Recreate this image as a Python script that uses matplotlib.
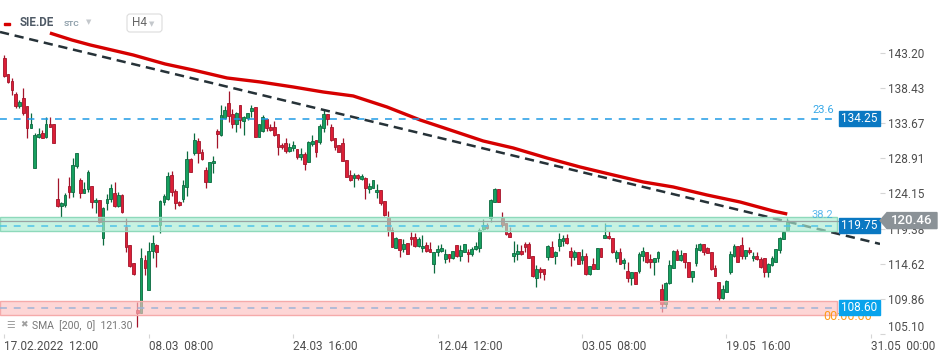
import numpy as np
import matplotlib
matplotlib.use('Agg')
import matplotlib.pyplot as plt
from matplotlib.patches import Rectangle, Polygon, FancyBboxPatch
from matplotlib import transforms
from matplotlib.colors import to_rgba

plt.rcParams['font.family'] = ['Roboto', 'DejaVu Sans']

# SIE.DE, H4 bars from 17.02.2022 12:00
opens = [142.48, 140.31, 139.40, 137.59, 136.01, 137.05, 136.06, 132.98, 127.64, 131.85,
         132.30, 131.85, 133.52, 133.52, 123.38, 122.48, 122.57, 125.15, 124.38, 127.91,
         125.96, 124.15, 124.74, 125.15, 122.93, 123.25, 118.05, 122.80, 123.38, 124.15,
         122.48, 123.93, 119.63, 117.14, 114.65, 108.32, 107.87, 115.10, 111.03, 116.33,
         117.14, 119.86, 122.93, 123.38, 126.64, 124.47, 122.93, 123.38, 125.06, 128.81,
         129.58, 131.26, 129.72, 127.32, 125.65, 128.23, 132.62, 132.07, 134.34, 136.37,
         134.88, 133.52, 136.15, 133.97, 134.34, 135.38, 135.83, 131.85, 132.62, 134.25,
         133.16, 133.16, 132.16, 130.72, 130.94, 129.90, 130.26, 130.17, 129.13, 129.49,
         128.36, 130.81, 131.35, 131.17, 133.07, 134.88, 133.20, 131.62, 130.72, 130.94,
         128.68, 126.64, 126.19, 126.64, 126.10, 126.19, 124.74, 124.92, 124.29, 124.61,
         123.11, 120.99, 119.18, 116.78, 117.91, 116.60, 117.37, 118.27, 118.27, 117.05,
         116.69, 117.14, 116.60, 114.52, 116.15, 116.37, 115.24, 115.87, 115.33, 117.14,
         115.69, 116.24, 116.24, 115.87, 116.60, 116.69, 119.31, 119.86, 120.76, 123.02,
         124.74, 120.85, 120.08, 118.73, 115.69, 115.87, 116.33, 117.23, 117.23, 115.69,
         112.62, 113.88, 113.88, 115.56, 116.92, 115.69, 117.05, 117.68, 118.05, 116.33,
         115.56, 116.15, 115.10, 115.69, 113.16, 114.52, 113.88, 116.69, 118.14, 118.41,
         118.14, 115.42, 116.15, 114.65, 113.61, 112.71, 113.43, 113.61, 115.69, 116.15,
         115.24, 114.79, 115.33, 111.17, 109.09, 111.94, 114.06, 116.33, 115.10, 116.01,
         114.88, 112.84, 114.65, 116.46, 117.23, 116.78, 116.24, 113.97, 112.07, 109.90,
         110.81, 113.43, 115.69, 117.01, 117.14, 115.69, 116.46, 115.33, 115.69, 115.24,
         115.33, 113.43, 114.43, 114.88, 116.46, 117.96, 119.18]
highs = [142.93, 140.31, 139.77, 137.96, 136.82, 138.41, 136.06, 135.01, 132.30, 132.98,
         132.75, 134.56, 134.56, 133.52, 126.19, 123.02, 124.15, 126.42, 128.90, 129.58,
         126.28, 125.74, 127.32, 125.15, 123.57, 123.25, 122.35, 124.02, 125.38, 125.65,
         124.38, 124.02, 120.76, 117.14, 114.65, 109.45, 116.69, 115.78, 117.59, 118.50,
         117.23, 123.25, 124.02, 127.10, 127.19, 124.74, 123.11, 125.96, 129.90, 128.99,
         132.30, 131.71, 130.17, 127.77, 128.45, 129.22, 132.89, 136.15, 136.06, 138.05,
         135.60, 135.24, 136.15, 134.70, 135.01, 136.15, 135.92, 133.52, 134.79, 134.25,
         133.52, 133.97, 132.16, 130.94, 131.62, 130.94, 131.26, 130.17, 130.26, 129.81,
         131.26, 132.07, 131.35, 133.52, 135.47, 134.88, 133.52, 131.62, 130.72, 131.62,
         128.68, 127.32, 126.96, 126.73, 126.78, 126.42, 125.51, 125.96, 125.38, 124.61,
         123.11, 121.76, 119.63, 118.27, 117.91, 117.96, 117.37, 118.95, 118.73, 118.27,
         118.50, 117.59, 117.59, 116.15, 117.14, 117.28, 116.60, 115.87, 116.33, 117.14,
         117.14, 117.23, 116.60, 116.92, 117.59, 119.40, 120.67, 120.08, 123.38, 124.83,
         124.74, 121.67, 120.08, 119.63, 117.68, 117.23, 117.14, 117.59, 117.50, 115.69,
         114.43, 114.20, 113.88, 117.14, 117.68, 116.33, 118.73, 118.50, 118.59, 116.92,
         116.46, 116.15, 116.60, 116.01, 114.34, 115.33, 116.78, 116.78, 120.08, 119.04,
         118.14, 116.46, 116.69, 115.33, 114.79, 113.43, 113.52, 116.15, 116.92, 116.15,
         115.87, 115.33, 116.33, 111.80, 112.07, 115.10, 116.46, 116.60, 116.46, 116.01,
         114.88, 113.61, 117.23, 117.37, 117.23, 116.92, 116.24, 114.43, 112.07, 111.71,
         112.39, 116.33, 117.23, 117.01, 118.23, 116.46, 116.92, 116.15, 116.15, 115.56,
         115.33, 114.65, 115.69, 116.60, 118.27, 118.95, 120.85]
lows = [139.99, 139.09, 137.50, 135.69, 135.69, 134.79, 131.71, 132.98, 127.64, 131.62,
        131.62, 131.62, 133.20, 131.03, 122.35, 120.99, 122.35, 123.48, 123.70, 127.64,
        123.48, 124.15, 124.38, 122.21, 121.44, 120.08, 117.14, 121.89, 123.02, 122.35,
        122.35, 121.44, 116.24, 114.20, 113.07, 106.05, 107.87, 113.07, 111.03, 115.33,
        114.20, 118.73, 122.57, 123.25, 123.84, 122.03, 122.48, 123.02, 123.84, 127.10,
        129.36, 128.23, 128.68, 124.83, 125.65, 126.87, 130.26, 131.98, 134.25, 133.88,
        133.07, 132.53, 132.98, 132.07, 134.11, 134.56, 131.85, 131.85, 132.53, 132.62,
        132.62, 131.98, 129.36, 130.17, 129.58, 129.72, 129.90, 128.81, 128.68, 127.32,
        128.36, 130.62, 129.13, 130.81, 132.53, 133.43, 131.26, 130.04, 129.72, 128.59,
        126.42, 125.83, 125.06, 125.96, 125.96, 123.38, 124.15, 124.83, 123.57, 122.57,
        121.12, 118.41, 116.82, 116.69, 115.56, 116.15, 115.87, 117.14, 116.92, 116.92,
        116.15, 116.15, 116.15, 113.38, 115.69, 116.15, 114.65, 114.79, 115.24, 115.56,
        114.97, 116.15, 114.88, 115.69, 116.46, 116.15, 119.18, 119.31, 120.22, 123.02,
        123.02, 119.63, 118.50, 118.27, 114.79, 115.10, 115.78, 116.24, 115.42, 112.84,
        111.48, 112.62, 112.39, 115.10, 115.56, 114.61, 116.33, 117.05, 117.23, 114.34,
        115.10, 114.61, 114.61, 113.07, 113.07, 113.88, 113.88, 115.56, 118.14, 117.96,
        116.01, 114.79, 114.52, 113.88, 112.16, 111.71, 111.80, 113.29, 114.97, 114.65,
        114.06, 113.07, 114.79, 108.09, 108.77, 111.80, 113.97, 115.10, 114.97, 114.06,
        112.84, 112.07, 114.34, 116.33, 115.78, 116.01, 113.75, 112.98, 109.67, 109.81,
        110.72, 113.16, 115.56, 114.79, 115.24, 115.24, 115.87, 114.97, 115.10, 114.06,
        112.84, 112.84, 114.34, 114.88, 116.01, 117.96, 119.18]
closes = [140.13, 139.31, 138.18, 136.06, 136.51, 135.01, 132.98, 133.52, 132.07, 132.16,
          131.71, 133.52, 133.20, 131.03, 122.48, 122.80, 123.93, 124.38, 128.00, 129.58,
          124.15, 124.74, 127.10, 122.93, 123.25, 120.31, 122.12, 123.38, 124.83, 122.48,
          123.93, 121.58, 116.92, 114.34, 113.16, 107.87, 115.33, 114.06, 116.33, 117.37,
          116.24, 123.11, 123.79, 126.51, 124.29, 122.80, 122.57, 125.29, 128.81, 127.10,
          131.39, 129.58, 128.81, 125.65, 128.36, 128.54, 132.16, 134.79, 135.47, 134.70,
          133.52, 135.01, 134.11, 134.56, 135.01, 135.69, 131.85, 133.52, 134.56, 132.98,
          132.80, 132.07, 130.49, 130.40, 129.90, 130.44, 130.72, 129.13, 129.49, 128.09,
          131.08, 131.26, 129.72, 133.29, 134.88, 134.25, 131.39, 130.49, 129.72, 128.59,
          126.42, 125.96, 126.64, 126.19, 126.55, 124.83, 125.15, 125.96, 124.61, 122.89,
          121.21, 119.18, 116.82, 118.14, 116.46, 117.23, 115.87, 117.91, 117.05, 117.96,
          117.05, 116.37, 116.15, 116.15, 116.60, 116.78, 115.87, 115.33, 116.33, 115.69,
          116.46, 117.23, 115.87, 116.60, 117.01, 119.18, 119.86, 119.40, 123.25, 124.74,
          123.02, 119.86, 118.59, 118.27, 116.01, 116.33, 115.87, 116.92, 115.42, 112.98,
          113.88, 113.52, 113.16, 117.01, 115.56, 116.15, 117.96, 118.14, 117.37, 115.56,
          116.15, 114.61, 115.69, 113.16, 114.34, 113.88, 116.69, 115.56, 118.50, 118.05,
          116.15, 116.15, 114.52, 115.10, 112.71, 113.43, 111.80, 115.87, 116.33, 114.88,
          114.79, 115.33, 116.24, 109.09, 111.94, 114.43, 116.33, 115.10, 115.78, 114.79,
          112.84, 113.61, 116.69, 117.23, 116.24, 116.01, 113.88, 112.98, 109.90, 111.17,
          112.25, 115.87, 117.01, 114.88, 115.69, 116.46, 116.15, 115.69, 115.24, 114.20,
          113.43, 114.52, 115.33, 116.60, 118.05, 118.86, 120.46]

# SMA(200): bar index -> value
sma_bars = [12, 17.8, 22.6, 33.9, 42.3, 49.7, 58.6, 67.3, 76, 83.9, 91.8, 100.7, 109.4,
            118.1, 126, 133.9, 142.8, 151.5, 160.2, 168.1, 176, 184.9, 193.6, 202.3, 206]
sma_values = [145.91, 144.96, 144.29, 142.93, 141.71, 140.89, 139.81, 139.27, 138.59,
              137.91, 137.37, 135.87, 134.11, 132.62, 131.26, 130.31, 128.95, 127.73,
              126.65, 125.70, 125.02, 123.93, 122.98, 121.76, 121.35]
sma_last = 121.30

trend_bars = [0, 228]
trend_values = [145.91, 117.59]

fib_23 = 134.25
fib_38 = 119.75
support = 108.60
zone_green = [119.05, 120.95]
zone_red = [107.65, 109.55]
zone_end = 219
last_price = 120.46

ytick_values = [143.20, 138.43, 133.67, 128.91, 124.15, 119.38, 114.62, 109.86, 105.10]
xtick_bars = [0, 38, 76, 114, 152, 190, 228]
xtick_labels = ['17.02.2022  12:00', '08.03  08:00', '24.03  16:00', '12.04  12:00',
                '03.05  08:00', '19.05  16:00', '31.05  00:00']

W, H = 949, 359
fig = plt.figure(figsize=(W / 100, H / 100), dpi=100)
ax = fig.add_axes([0, 25 / H, 880 / W, 334 / H])
x_left, x_right = -1.13, 230.4
ax.set_xlim(x_left, x_right)
ax.set_ylim(105.07, 150.39)
for s in ax.spines.values():
    s.set_visible(False)

# candles
x = np.arange(len(opens))
o, hi, lo, c = map(np.array, (opens, highs, lows, closes))
up = c >= o
face = np.where(up, '#16a05f', '#dc1f36')
edge = np.where(up, '#0b6a3f', '#a3142a')
ax.vlines(x, lo, hi, colors=list(edge), linewidth=0.9, zorder=2)
ax.bar(x, np.maximum(np.abs(c - o), 0.08), bottom=np.minimum(o, c), width=0.72,
       color=list(face), edgecolor=list(edge), linewidth=0.6, zorder=2.1)

# trend line and sma
ax.axline((trend_bars[0], trend_values[0]), (trend_bars[1], trend_values[1]),
          color='#263238', lw=1.8, dashes=(3.7, 2.3), zorder=2.5)
ax.plot(sma_bars, sma_values, color='#d60000', lw=2.4, solid_capstyle='butt', zorder=2.6)

# zones
ax.add_patch(Rectangle((x_left, zone_green[0]), zone_end - x_left, zone_green[1] - zone_green[0],
                       facecolor=to_rgba('#aaebd1', 0.65), edgecolor='#8ed9bb', lw=1, zorder=3))
ax.add_patch(Rectangle((x_left, zone_red[0]), zone_end - x_left, zone_red[1] - zone_red[0],
                       facecolor=to_rgba('#fcc0c0', 0.65), edgecolor='#f5aaaa', lw=1, zorder=3))
ax.hlines(fib_23, x_left, zone_end, colors='#1f9be6', lw=1.1, linestyles=(0, (4.5, 4.5)), zorder=4)
ax.hlines(fib_38, x_left, zone_end, colors='#4fc3e8', lw=1.1, linestyles=(0, (4.5, 4.5)), zorder=4)
ax.hlines(support, x_left, zone_end, colors='#9db3d6', lw=1.1, linestyles=(0, (4.5, 4.5)), zorder=4)
ax.axhline(last_price, color='#9aa3a3', lw=0.9, zorder=4)

# axes ticks
ax.set_yticks(ytick_values)
ax.set_yticklabels(['%.2f' % v for v in ytick_values])
ax.yaxis.tick_right()
ax.tick_params(axis='y', length=3.6, color='#d5d5d5', pad=2.5, labelsize=8.5, labelcolor='#4d4d4d')
ax.get_yticklabels()[-1].set_va('bottom')
ax.set_xticks(xtick_bars)
ax.set_xticklabels(xtick_labels, ha='left')
ax.tick_params(axis='x', length=3, color='#d5d5d5', pad=1.5, labelsize=8.5, labelcolor='#4d4d4d')

ident = transforms.IdentityTransform()


def ydisp(p):
    return ax.transData.transform((0, p))[1]


def price_box(p, txt, color):
    yc = ydisp(p)
    fig.add_artist(Rectangle((839, yc - 7.5), 41, 15, transform=ident, color=color, zorder=10))
    fig.text(859.5, yc, txt, transform=ident, ha='center', va='center', color='white',
             fontsize=8.5, zorder=11)


fig.text(823, H - 316, '00:00:00', transform=ident, ha='left', va='center',
         color='#ff9b1a', fontsize=9, zorder=9)
price_box(fib_23, '%.2f' % fib_23, '#0a78c2')
price_box(fib_38, '%.2f' % fib_38, '#0a78c2')
price_box(support, '%.2f' % support, '#08a3ec')
fig.text(812, ydisp(fib_23) + 9, '23.6', transform=ident, ha='left', va='center',
         color='#38a9e8', fontsize=8, zorder=9)
fig.text(812, ydisp(fib_38) + 11, '38.2', transform=ident, ha='left', va='center',
         color='#38a9e8', fontsize=8, alpha=0.8, zorder=9)

yc = ydisp(last_price)
fig.add_artist(Polygon([(880, yc), (887, yc + 8), (937, yc + 8), (937, yc - 8), (887, yc - 8)],
                       closed=True, transform=ident, color='#8b9297', zorder=10))
fig.text(912, yc, '%.2f' % last_price, transform=ident, ha='center', va='center',
         color='white', fontsize=9.5, fontweight='medium', zorder=11)

# header legend
fig.add_artist(Rectangle((4, H - 25), 6, 2.5, transform=ident, color='#d60000', zorder=10))
fig.text(20, H - 23, 'SIE.DE', transform=ident, ha='left', va='center', color='#4f5a66',
         fontsize=8.3, fontweight='bold', zorder=11)
fig.text(64, H - 24, 'STC', transform=ident, ha='left', va='center', color='#8fa0ab',
         fontsize=6, fontweight='bold', zorder=11)
fig.text(86, H - 22, '▼', transform=ident, ha='left', va='center', color='#c4c8cc',
         fontsize=5, family='DejaVu Sans', zorder=11)
fig.add_artist(FancyBboxPatch((127, H - 32), 35, 18, boxstyle='round,pad=0,rounding_size=3',
                              transform=ident, facecolor='white', edgecolor='#dcdcdc', lw=0.8, zorder=10))
fig.text(132, H - 23, 'H4', transform=ident, ha='left', va='center', color='#666666',
         fontsize=8.5, zorder=11)
fig.text(149, H - 24, '▼', transform=ident, ha='left', va='center', color='#c4c8cc',
         fontsize=5, family='DejaVu Sans', zorder=11)

# sma legend
fig.text(6, H - 325, '☰', transform=ident, ha='left', va='center', color='#a0a0a0',
         fontsize=7, family='DejaVu Sans', zorder=11)
fig.text(20, H - 325, '✖', transform=ident, ha='left', va='center', color='#a0a0a0',
         fontsize=6.5, family='DejaVu Sans', zorder=11)
fig.text(32, H - 326, 'SMA  [200,  0]  %.2f' % sma_last, transform=ident, ha='left',
         va='center', color='#777777', fontsize=7.5, zorder=11)

fig.savefig('out.png', dpi=100)
